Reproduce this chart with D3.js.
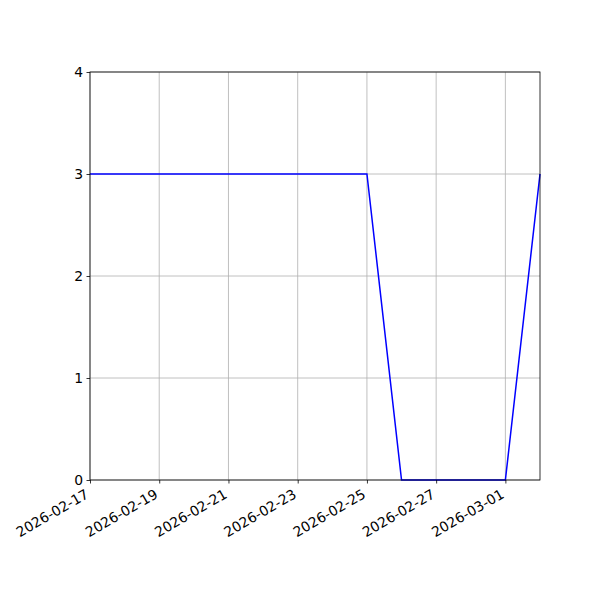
<!DOCTYPE html>
<html><head><meta charset="utf-8">
<script src="https://cdn.jsdelivr.net/npm/d3@7"></script>
<style>body{margin:0;background:#fff}svg{display:block}text{font-family:"DejaVu Sans",sans-serif}</style>
</head><body>
<script>
const dates = ["2026-02-17","2026-02-18","2026-02-19","2026-02-20","2026-02-21","2026-02-22","2026-02-23","2026-02-24","2026-02-25","2026-02-26","2026-02-27","2026-02-28","2026-03-01","2026-03-02"];
const values = [3,3,3,3,3,3,3,3,3,0,0,0,0,3];
const xTickLabels = ["2026-02-17","2026-02-19","2026-02-21","2026-02-23","2026-02-25","2026-02-27","2026-03-01"];
const yTicks = [0,1,2,3,4];

const W=600,H=600, L=90,R=540,T=72,B=480;
const parse = d3.utcParse("%Y-%m-%d");
const fmt = d3.utcFormat("%Y-%m-%d");
const svg = d3.select("body").append("svg").attr("width",W).attr("height",H);
const x = d3.scaleUtc().domain([parse(dates[0]), parse(dates[dates.length-1])]).range([L,R]);
const y = d3.scaleLinear().domain([0,4]).range([B,T]);
const xt = xTickLabels.map(parse);

// grid
const g = svg.append("g");
g.selectAll("line.vx").data(xt).join("line").attr("x1",d=>x(d)).attr("x2",d=>x(d)).attr("y1",T).attr("y2",B).attr("stroke","#b0b0b0").attr("stroke-width",0.8);
g.selectAll("line.hy").data(yTicks).join("line").attr("y1",d=>y(d)).attr("y2",d=>y(d)).attr("x1",L).attr("x2",R).attr("stroke","#b0b0b0").attr("stroke-width",0.8);

// line
svg.append("path").datum(dates.map((d,i)=>[parse(d),values[i]]))
  .attr("fill","none").attr("stroke","#0000ff").attr("stroke-width",1.5)
  .attr("d", d3.line().x(d=>x(d[0])).y(d=>y(d[1])));

// frame
svg.append("rect").attr("x",L).attr("y",T).attr("width",R-L).attr("height",B-T).attr("fill","none").attr("stroke","#000").attr("stroke-width",0.8);

// axes
const xa = svg.append("g").attr("transform",`translate(0,${B})`).call(d3.axisBottom(x).tickValues(xt).tickFormat(fmt).tickSize(3.5).tickPadding(3.5));
xa.select(".domain").remove();
xa.selectAll("text").attr("font-size",13.9).attr("fill","#000").attr("text-anchor","end").attr("dy",null)
  .attr("transform","translate(-6,8) rotate(-30)").attr("y",0).attr("x",0).attr("dominant-baseline","hanging");
xa.selectAll("line").attr("stroke","#000").attr("stroke-width",0.8);

const ya = svg.append("g").attr("transform",`translate(${L},0)`).call(d3.axisLeft(y).tickValues(yTicks).tickFormat(d3.format("d")).tickSize(3.5).tickPadding(3.5));
ya.select(".domain").remove();
ya.selectAll("text").attr("font-size",13.9).attr("fill","#000");
ya.selectAll("line").attr("stroke","#000").attr("stroke-width",0.8);
</script>
</body></html>
